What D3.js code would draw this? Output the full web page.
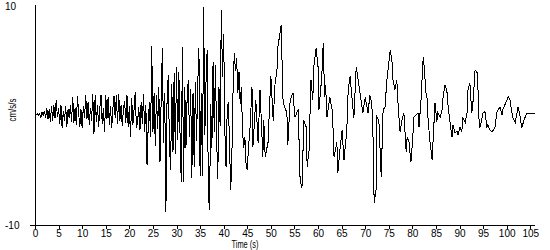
<!DOCTYPE html>
<html><head><meta charset="utf-8">
<script src="https://cdn.jsdelivr.net/npm/d3@7"></script>
<style>
body{margin:0;background:#fff}
svg{display:block}
text{font-family:"Liberation Sans",Arial,sans-serif;font-size:10px;fill:#000}
</style>
</head><body>
<svg id="chart" width="550" height="250"></svg>
<script>
// sample times (s)
const time = [
0,0.25,0.5,0.75,1,1.25,1.5,1.75,2,2.25,2.5,2.75,3,3.25,3.5,3.75,4,4.25,4.5,4.75,
5,5.25,5.5,5.75,6,6.25,6.5,6.75,7,7.25,7.5,7.75,8,8.25,8.5,8.75,9,9.25,9.5,9.75,
10,10.25,10.5,10.75,11,11.25,11.5,11.75,12,12.25,12.5,12.75,13,13.25,13.5,13.75,14,14.25,14.5,14.75,
15,15.25,15.5,15.75,16,16.25,16.5,16.75,17,17.25,17.5,17.75,18,18.25,18.5,18.75,19,19.25,19.5,19.75,
20,20.25,20.5,20.75,21,21.25,21.5,21.75,22,22.25,22.5,22.75,23,23.25,23.5,23.75,24,24.25,24.5,24.75,
25,25.25,25.5,25.75,26,26.25,26.5,26.75,27,27.25,27.5,27.75,28,28.25,28.5,28.75,29,29.25,29.5,29.75,
30,30.25,30.5,30.75,31,31.25,31.5,31.75,32,32.25,32.5,32.75,33,33.25,33.5,33.75,34,34.25,34.5,34.75,
35,35.25,35.5,35.75,36,36.25,36.5,36.75,37,37.25,37.5,37.75,38,38.25,38.5,38.75,39,39.25,39.5,39.75,
40,40.25,40.5,40.75,41,41.25,41.5,41.75,42,42.25,42.5,42.75,43,43.25,43.5,43.75,44,44.25,44.5,44.75,
45,45.25,45.6,46.0,46.2,46.8,47.3,47.7,48.3,48.5,48.8,49.4,50.0,50.5,50.9,51.3,51.5,52.2,52.4,52.6,
53.4,53.6,54.1,54.7,55.1,55.8,56.2,56.6,57.0,57.5,57.7,58.1,58.5,58.9,59.1,59.6,60.0,60.2,60.8,61.1,
61.4,61.6,61.9,62.5,63.0,63.2,63.4,64.0,64.2,64.7,65.1,65.5,66.1,66.4,66.8,67.2,67.6,68.1,68.5,69.1,
69.5,70.0,70.6,71.0,71.4,71.7,71.9,72.3,72.5,72.9,73.4,73.8,74.2,74.6,75.3,75.7,75.9,76.3,76.7,77.0,
77.4,77.8,78.2,78.7,78.9,79.3,79.7,80.1,80.3,80.8,81.2,81.4,81.8,82.3,82.5,82.9,83.1,83.3,83.7,84.2,
84.4,84.8,85.2,85.4,85.9,86.3,86.5,86.9,87.3,87.6,88.0,88.4,88.6,89.0,89.5,89.7,90.1,90.5,90.7,91.2,
91.6,91.8,92.2,92.6,92.9,93.3,93.7,93.9,94.1,94.3,94.8,95.0,95.4,95.8,96.0,96.5,96.9,97.1,97.5,97.9,
98.2,98.6,99.0,99.2,99.6,100.1,100.3,100.7,101.1,101.3,101.8,102.2,102.4,102.8,103.2,103.5,103.9,104.3,104.5,106.0
];
// ground acceleration (cm/s/s)
const accel = [
0,0,0.1,0,0.1,-0.2,0.3,-0.1,0.4,-0.3,0.6,-0.4,0.5,-0.6,0.8,-0.5,0.9,-0.3,1.4,-0.2,
0.6,-0.8,0.9,-1.2,0.4,-0.5,0.8,-1.1,0.5,-0.3,0.9,-0.6,1.6,-0.7,0.6,-0.9,1.7,0.2,-1.1,0.5,
-1.2,0.8,-0.3,1.8,-0.4,1.2,-0.9,0.6,-0.5,1.9,-1.7,1.8,-0.6,0.9,-1.1,0.7,1.8,-0.8,0.6,-1.5,
1.8,-0.4,1.6,-0.9,0.8,-1.2,0.5,1.7,-0.3,1.8,-0.8,1.9,-0.5,0.9,-1.0,0.6,1.3,-0.7,1.8,-1.1,
0.8,-2.0,1.5,-0.9,0.5,2.1,-1.2,-0.6,0.7,-1.4,1.2,-0.8,1.9,-1.5,0.9,-4.5,-1.0,1.2,-2.0,6.3,
-1.5,2.0,-2.8,1.8,-1.3,2.5,-4.3,1.5,6.1,-2.5,2.0,-8.8,1.5,3.6,-2.6,-5.0,2.8,-3.4,3.8,-3.5,
4.4,-2.3,3.9,-1.8,-6.1,6.2,-6.1,2.5,-3.0,1.5,3.2,-2.0,2.4,-5.7,2.0,-4.7,3.0,-2.4,2.8,6.1,
-5.5,2.0,-5.5,9.8,-1.8,3.0,5.9,-7.1,-8.6,1.0,-3.0,4.8,-1.5,4.5,-2.0,-5.8,2.5,-1.0,9.5,3.5,
7.4,-1.5,-4.7,0.5,1.2,-3.0,-6.8,-3.5,2.5,5.6,4.0,5.2,2.0,3.9,1.0,2.5,-1.5,-3.0,-2.0,-4.5,
-5.0,-3.0,-1.1,2.5,-2.9,1.4,-2.5,2.3,-3.8,-0.5,-3.8,-2.5,3.5,-0.5,2.9,4.1,6.2,8.2,4.4,1.1,
0.2,-2.7,1.4,2.0,-0.2,0.5,-5.9,-6.6,-0.5,-1.1,-4.7,-3.2,3.2,1.4,4.4,6.1,4.4,0.5,3.5,6.5,
1.6,2.7,-0.2,1.6,0.5,-1.4,-3.8,-2.5,-5.3,-2.9,-1.4,-4.1,-1.4,2.3,3.5,1.6,-0.3,4.4,3.2,1.4,
0.2,1.6,0.2,1.8,1.1,-2.5,-8.0,-6.8,-0.2,-0.5,-5.6,0.5,0.7,3.2,5.9,4.8,3.2,2.3,3.2,0.7,
-1.5,-0.5,0.2,-3.4,-2.0,-2.5,-4.3,-2.0,-0.2,0,0.2,-1.1,1.1,5.3,4.4,2.0,1.6,-0.2,-2.3,-4.1,
-2.3,1.1,-0.6,0.2,-0.2,0.5,1.6,2.7,2.3,0.7,-0.7,-2.0,-0.9,-1.6,-1.5,-1.8,-1.1,-1.5,-0.2,-0.7,
0.2,2.3,2.9,0.2,1.4,4.1,3.9,2.5,-0.2,-1.2,-0.2,0.2,0.3,-1.1,-0.9,-1.4,-1.5,-1.4,-1.2,0.2,
0.5,0.7,0,0.5,0.9,1.4,1.7,1.4,0.2,-0.2,-0.7,0.2,0.7,0,-1.2,-0.7,-0.2,0.2,0.1,0.1
];
const xTickValues = [0,5,10,15,20,25,30,35,40,45,50,55,60,65,70,75,80,85,90,95,100,105];
const yTickValues = [-10, 10];
const xDomain = [0, 106];
const yDomain = [-10, 10];
const xTitle = "Time (s)";
const yTitle = "cm/s/s";

const data = time.map((t, i) => ({t, v: accel[i]}));
const svg = d3.select("#chart");
const x = d3.scaleLinear().domain(xDomain).range([35, 535]);
const y = d3.scaleLinear().domain(yDomain).range([225, 5]);

// x axis
const xAxis = d3.axisBottom(x).tickValues(xTickValues).tickSize(4).tickSizeOuter(0).tickPadding(1);
const gx = svg.append("g").attr("transform", `translate(0,${y(-10)})`).call(xAxis);
gx.select(".domain").remove();
gx.selectAll(".tick line").attr("stroke", "#000").attr("shape-rendering", "crispEdges");
gx.selectAll(".tick text").attr("font-family", "Liberation Sans, Arial, sans-serif").attr("font-size", 10).attr("fill", "#000");

// axis lines
svg.append("line").attr("x1", 30).attr("x2", 535).attr("y1", y(-10) + 0.5).attr("y2", y(-10) + 0.5)
  .attr("stroke", "#000").attr("shape-rendering", "crispEdges");
svg.append("line").attr("x1", x(0) + 0.5).attr("x2", x(0) + 0.5).attr("y1", y(10)).attr("y2", y(-10))
  .attr("stroke", "#000").attr("shape-rendering", "crispEdges");

// y labels
svg.selectAll(".ylab").data(yTickValues).enter().append("text")
  .attr("class", "ylab")
  .attr("x", 5)
  .attr("y", d => y(d) + (d > 0 ? 5 : 4))
  .text(d => d);

svg.append("text").attr("x", 245).attr("y", 248).attr("text-anchor", "middle")
  .attr("textLength", 27).attr("lengthAdjust", "spacingAndGlyphs").text(xTitle);
svg.append("text").attr("transform", "translate(16,110) rotate(-90)").attr("text-anchor", "middle")
  .attr("textLength", 23).attr("lengthAdjust", "spacingAndGlyphs").text(yTitle);

// trace
const line = d3.line().x(d => x(d.t)).y(d => y(d.v));
svg.append("path").datum(data).attr("fill", "none").attr("stroke", "#000").attr("stroke-width", 1)
  .attr("shape-rendering", "crispEdges")
  .attr("d", line);
</script>
</body></html>
